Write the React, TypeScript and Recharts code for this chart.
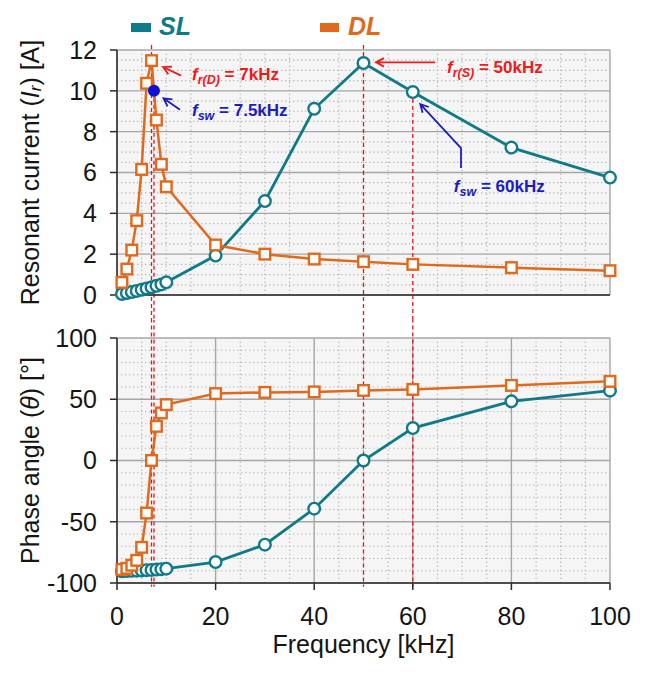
import React from "react";
import {
  LineChart,
  Line,
  XAxis,
  YAxis,
  CartesianGrid,
  ReferenceLine,
  ReferenceDot,
} from "recharts";

// frequency points [kHz]
const freq = [1, 2, 3, 4, 5, 6, 7, 8, 9, 10, 20, 30, 40, 50, 60, 80, 100];

// resonant current [A]
const slCurrent = [0.05, 0.1, 0.15, 0.2, 0.26, 0.32, 0.38, 0.45, 0.52, 0.62, 1.93, 4.6, 9.12, 11.36, 9.94, 7.22, 5.75];
const dlCurrent = [0.62, 1.27, 2.2, 3.64, 6.15, 10.37, 11.48, 8.57, 6.4, 5.3, 2.45, 2.0, 1.76, 1.63, 1.5, 1.34, 1.19];

// phase angle [deg]
const slPhase = [-90.5, -90.3, -90.1, -89.9, -89.7, -89.5, -89.3, -89.0, -88.7, -88.3, -82.9, -68.7, -39.3, 0, 26.5, 48.3, 57];
const dlPhase = [-89, -88, -85.5, -81.5, -70.9, -42.9, 0, 27.9, 38.8, 45.6, 54.6, 55.6, 56, 57.2, 58, 61.3, 64.6];

const freqTicks = [0, 20, 40, 60, 80, 100];
const currentTicks = [0, 2, 4, 6, 8, 10, 12];
const phaseTicks = [-100, -50, 0, 50, 100];

// resonance / switching markers [kHz]
const markerFreqs = [7, 7.5, 50, 60];

const rows = freq.map((f, i) => ({
  f,
  slI: slCurrent[i],
  dlI: dlCurrent[i],
  slP: slPhase[i],
  dlP: dlPhase[i],
}));

const FONT = "'Liberation Sans', Arial, sans-serif";
const TEAL = "#0f7a88";
const ORANGE = "#e0691c";
const RED = "#f01a1a";
const BLUE = "#1c1cc4";
const AXIS = "#2a2a2a";

// minor (dotted) grid values, skipping the major ones
const minorX = [5, 10, 15, 25, 30, 35, 45, 50, 55, 65, 70, 75, 85, 90, 95];
const minorI = [0.5, 1, 1.5, 2.5, 3, 3.5, 4.5, 5, 5.5, 6.5, 7, 7.5, 8.5, 9, 9.5, 10.5, 11, 11.5];
const minorP = [-90, -80, -70, -60, -40, -30, -20, -10, 10, 20, 30, 40, 60, 70, 80, 90];

function arrow(fx: number, fy: number, tx: number, ty: number, color: string, bend?: [number, number]) {
  const sx = bend ? bend[0] : fx;
  const sy = bend ? bend[1] : fy;
  const len = Math.hypot(tx - sx, ty - sy);
  const ux = (tx - sx) / len;
  const uy = (ty - sy) / len;
  const a = (28 * Math.PI) / 180;
  const h = 9;
  const b1x = tx - h * (ux * Math.cos(a) - uy * Math.sin(a));
  const b1y = ty - h * (uy * Math.cos(a) + ux * Math.sin(a));
  const b2x = tx - h * (ux * Math.cos(a) + uy * Math.sin(a));
  const b2y = ty - h * (uy * Math.cos(a) - ux * Math.sin(a));
  const shaft = bend
    ? `M${fx},${fy} L${sx},${sy} L${tx},${ty}`
    : `M${fx},${fy} L${tx},${ty}`;
  return (
    <path
      d={`${shaft} M${b1x},${b1y} L${tx},${ty} L${b2x},${b2y}`}
      fill="none"
      stroke={color}
      strokeWidth={1.8}
    />
  );
}

function note(x: number, y: number, color: string, sub: string, rest: string) {
  return (
    <text x={x} y={y} fill={color} fontFamily={FONT} fontWeight="bold" fontSize={17}>
      <tspan fontStyle="italic">f</tspan>
      <tspan fontStyle="italic" fontSize={12.5} dy={4}>
        {sub}
      </tspan>
      <tspan dy={-4}>{rest}</tspan>
    </text>
  );
}

const noteFrD = (p: any) => (
  <g>
    {arrow(p.cx + 29.5, p.cy + 15, p.cx + 11.5, p.cy + 6.4, RED)}
    {note(p.cx + 40.5, p.cy + 19.4, RED, "r(D)", " = 7kHz")}
  </g>
);

const noteSw75 = (p: any) => (
  <g>
    <circle cx={p.cx} cy={p.cy} r={6} fill="#1010d0" />
    {arrow(p.cx + 26, p.cy + 19, p.cx + 9.5, p.cy + 7.5, BLUE)}
    {note(p.cx + 38, p.cy + 25, BLUE, "sw", " = 7.5kHz")}
  </g>
);

const noteFrS = (p: any) => (
  <g>
    {arrow(p.cx + 71.5, p.cy - 0.7, p.cx + 12.5, p.cy - 0.7, RED)}
    {note(p.cx + 83.5, p.cy + 10.3, RED, "r(S)", " = 50kHz")}
  </g>
);

const noteSw60 = (p: any) => (
  <g>
    {arrow(p.cx + 48.2, p.cy + 76, p.cx + 7.5, p.cy + 12, BLUE, [p.cx + 48.2, p.cy + 56])}
    {note(p.cx + 41, p.cy + 99.7, BLUE, "sw", " = 60kHz")}
  </g>
);

const squareDot = (p: any) => (
  <rect
    key={`sq-${p.index}`}
    x={p.cx - 5.3}
    y={p.cy - 5.3}
    width={10.6}
    height={10.6}
    fill="#fff"
    stroke={ORANGE}
    strokeWidth={2.4}
  />
);

const circleDot = { r: 5.8, fill: "#fff", stroke: TEAL, strokeWidth: 2.4 };

const tickStyle = { fontSize: 25, fontFamily: FONT, fill: "#151515" };

function yLabel(parts: React.ReactNode, fallback: number) {
  return (props: any) => {
    const vb = props.viewBox || {};
    const cy = vb.height ? vb.y + vb.height / 2 : fallback;
    const x = 30;
    return (
      <text
        x={x}
        y={cy}
        transform={`rotate(-90 ${x} ${cy})`}
        textAnchor="middle"
        dominantBaseline="central"
        fontSize={25}
        fontFamily={FONT}
        fill="#151515"
      >
        {parts}
      </text>
    );
  };
}

const xLabel = (props: any) => {
  const vb = props.viewBox || {};
  const cx = vb.width ? vb.x + vb.width / 2 : 363.5;
  const y = vb.height ? vb.y + 70 : 333;
  return (
    <text x={cx} y={y} textAnchor="middle" fontSize={25} fontFamily={FONT} fill="#151515">
      Frequency [kHz]
    </text>
  );
};

const dashed = { stroke: "#e8141c", strokeWidth: 1.3, strokeDasharray: "4 3" };
const dotted = { stroke: "#b4b4b4", strokeWidth: 1.2, strokeDasharray: "1.3 2.7" };

function minorGrid(xs: number[], ys: number[]) {
  return [
    ...xs.map((v) => <ReferenceLine key={`mx-${v}`} x={v} {...dotted} />),
    ...ys.map((v) => <ReferenceLine key={`my-${v}`} y={v} {...dotted} />),
  ];
}

export default function App() {
  return (
    <div
      style={{
        position: "absolute",
        left: 0,
        top: 0,
        width: 648,
        height: 679,
        background: "#fff",
        fontFamily: FONT,
      }}
    >
      <svg width={648} height={45} style={{ position: "absolute", left: 0, top: 0 }}>
        <rect x={131} y={23} width={20} height={9} fill={TEAL} />
        <text x={159} y={35} fill={TEAL} fontSize={25} fontWeight="bold" fontStyle="italic" fontFamily={FONT}>
          SL
        </text>
        <rect x={320} y={23} width={19} height={9} fill={ORANGE} />
        <text x={348} y={35} fill={ORANGE} fontSize={25} fontWeight="bold" fontStyle="italic" fontFamily={FONT}>
          DL
        </text>
      </svg>

      <div style={{ position: "absolute", left: 0, top: 0 }}>
        <LineChart width={648} height={320} data={rows} margin={{ top: 50, right: 38, bottom: 0, left: 57 }}>
          <CartesianGrid fill="#f5f5f5" stroke="#a6a6a6" strokeWidth={1.4} />
          {minorGrid(minorX, minorI)}
          <XAxis
            type="number"
            dataKey="f"
            domain={[0, 100]}
            ticks={freqTicks}
            height={25}
            tick={false}
            tickSize={7}
            stroke={AXIS}
            strokeWidth={1.5}
          />
          <YAxis
            type="number"
            domain={[0, 12]}
            ticks={currentTicks}
            width={60}
            tickSize={7}
            tickMargin={13}
            tick={tickStyle}
            stroke={AXIS}
            strokeWidth={1.5}
            label={yLabel(
              <>
                Resonant current (<tspan fontStyle="italic">I</tspan>
                <tspan fontStyle="italic" fontSize={17} dy={5}>
                  r
                </tspan>
                <tspan dy={-5}>) [A]</tspan>
              </>,
              172
            )}
          />
          <ReferenceLine segment={[{ x: markerFreqs[0], y: 12.25 }, { x: markerFreqs[0], y: -1.4 }]} ifOverflow="visible" {...dashed} />
          <ReferenceLine segment={[{ x: markerFreqs[1], y: 10 }, { x: markerFreqs[1], y: -1.4 }]} ifOverflow="visible" {...dashed} />
          <ReferenceLine segment={[{ x: markerFreqs[2], y: 12.25 }, { x: markerFreqs[2], y: -1.4 }]} ifOverflow="visible" {...dashed} />
          <ReferenceLine segment={[{ x: markerFreqs[3], y: 9.94 }, { x: markerFreqs[3], y: -1.4 }]} ifOverflow="visible" {...dashed} />
          <Line
            dataKey="slI"
            stroke={TEAL}
            strokeWidth={2.8}
            dot={circleDot}
            activeDot={false}
            isAnimationActive={false}
          />
          <Line
            dataKey="dlI"
            stroke={ORANGE}
            strokeWidth={2.5}
            dot={squareDot}
            activeDot={false}
            isAnimationActive={false}
          />
          <ReferenceDot x={7} y={dlCurrent[6]} r={0} shape={noteFrD} ifOverflow="visible" />
          <ReferenceDot x={7.5} y={10} r={0} shape={noteSw75} ifOverflow="visible" />
          <ReferenceDot x={50} y={slCurrent[13]} r={0} shape={noteFrS} ifOverflow="visible" />
          <ReferenceDot x={60} y={slCurrent[14]} r={0} shape={noteSw60} ifOverflow="visible" />
        </LineChart>
      </div>

      <div style={{ position: "absolute", left: 0, top: 320 }}>
        <LineChart width={648} height={359} data={rows} margin={{ top: 18, right: 38, bottom: 0, left: 57 }}>
          <CartesianGrid fill="#f5f5f5" stroke="#a6a6a6" strokeWidth={1.4} />
          {minorGrid(minorX, minorP)}
          <XAxis
            type="number"
            dataKey="f"
            domain={[0, 100]}
            ticks={freqTicks}
            height={96}
            tickSize={7}
            tickMargin={17}
            tick={tickStyle}
            stroke={AXIS}
            strokeWidth={1.5}
            label={xLabel}
          />
          <YAxis
            type="number"
            domain={[-100, 100]}
            ticks={phaseTicks}
            width={60}
            tickSize={7}
            tickMargin={13}
            tick={tickStyle}
            stroke={AXIS}
            strokeWidth={1.5}
            label={yLabel(
              <>
                Phase angle (<tspan fontStyle="italic">θ</tspan>) [°]
              </>,
              140
            )}
          />
          {markerFreqs.map((m) => (
            <ReferenceLine
              key={m}
              segment={[{ x: m, y: 116 }, { x: m, y: -103 }]}
              ifOverflow="visible"
              {...dashed}
            />
          ))}
          <Line
            dataKey="slP"
            stroke={TEAL}
            strokeWidth={2.8}
            dot={circleDot}
            activeDot={false}
            isAnimationActive={false}
          />
          <Line
            dataKey="dlP"
            stroke={ORANGE}
            strokeWidth={2.5}
            dot={squareDot}
            activeDot={false}
            isAnimationActive={false}
          />
        </LineChart>
      </div>
    </div>
  );
}
